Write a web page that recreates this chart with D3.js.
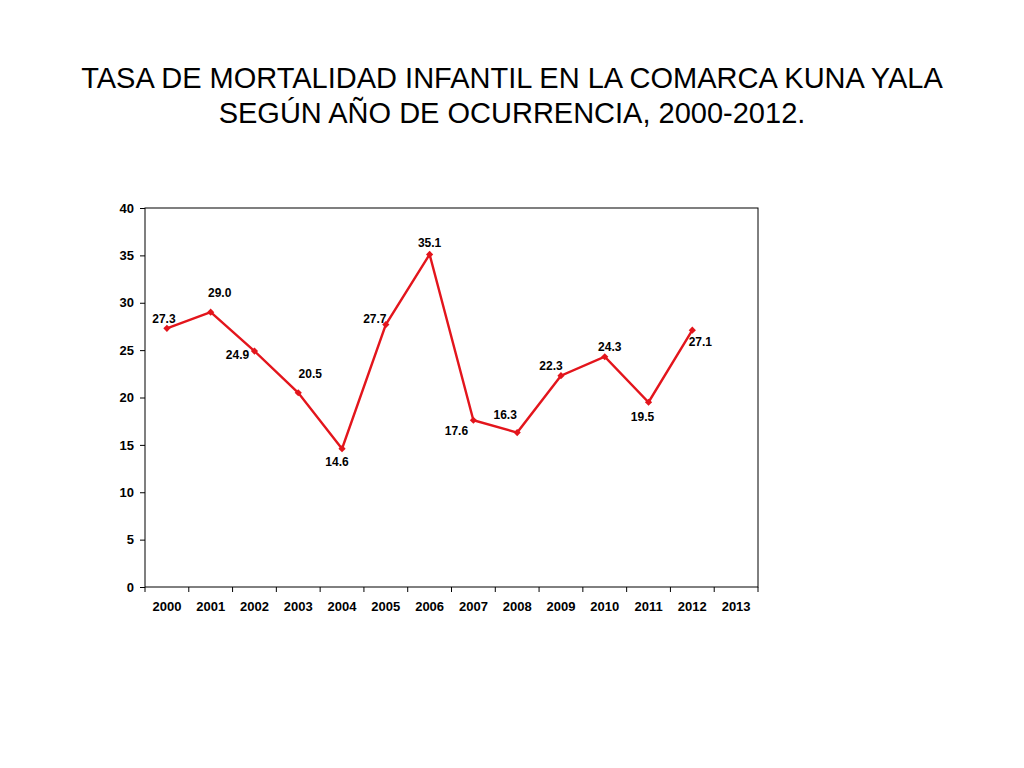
<!DOCTYPE html>
<html>
<head>
<meta charset="utf-8">
<script src="https://cdn.jsdelivr.net/npm/d3@7"></script>
<style>
  body { margin: 0; background: #fff; }
  text { font-family: "Liberation Sans", Arial, sans-serif; }
</style>
</head>
<body>
<div id="chart"></div>
<script>
var titleLines = ["TASA DE MORTALIDAD INFANTIL EN LA COMARCA KUNA YALA",
                  "SEGÚN AÑO DE OCURRENCIA, 2000-2012."]
var years = ["2000","2001","2002","2003","2004","2005","2006","2007","2008","2009","2010","2011","2012","2013"]
var rates = [27.3, 29.0, 24.9, 20.5, 14.6, 27.7, 35.1, 17.6, 16.3, 22.3, 24.3, 19.5, 27.1]
var yTicks = [0, 5, 10, 15, 20, 25, 30, 35, 40]

// label nudges, [dx, dy] from the marker to the label centre
var labelOffsets = [[-3,-10],[9,-19],[-17,4],[12,-19],[-5,13],[-11,-6],[0,-12],
                    [-17,11],[-12,-18],[-10,-10],[5,-10],[-6,15],[8,12]]

var width = 1024
var height = 768
var plot = {left: 145, right: 758, top: 208, bottom: 587}
var red = "#e3151c"

var svg = d3.select("#chart")
  .append("svg")
    .attr("width", width)
    .attr("height", height)

svg.selectAll("text.title")
  .data(titleLines)
  .enter()
  .append("text")
    .attr("class", "title")
    .attr("x", 512)
    .attr("y", function(d, i) { return 88 + i * 35 })
    .attr("text-anchor", "middle")
    .style("font-size", "29px")
    .text(function(d) { return d })

var x = d3.scaleBand()
  .domain(years)
  .range([plot.left, plot.right])

var y = d3.scaleLinear()
  .domain([0, 40])
  .range([plot.bottom, plot.top])

// frame
svg.append("rect")
  .attr("x", plot.left)
  .attr("y", plot.top)
  .attr("width", plot.right - plot.left)
  .attr("height", plot.bottom - plot.top)
  .attr("fill", "none")
  .attr("stroke", "#000")
  .attr("stroke-width", 1)

var yAxis = svg.append("g")
  .attr("transform", "translate(" + plot.left + ",0)")
  .call(d3.axisLeft(y).tickValues(yTicks).tickSize(5).tickPadding(6))
yAxis.select(".domain").remove()

var xAxis = svg.append("g")
  .attr("transform", "translate(0," + plot.bottom + ")")
  .call(d3.axisBottom(x).tickSize(0).tickPadding(15))
xAxis.select(".domain").remove()

// ticks between categories
svg.selectAll("line.xtick")
  .data(years.concat([null]))
  .enter()
  .append("line")
    .attr("class", "xtick")
    .attr("x1", function(d, i) { return plot.left + i * x.step() })
    .attr("x2", function(d, i) { return plot.left + i * x.step() })
    .attr("y1", plot.bottom)
    .attr("y2", plot.bottom + 5)
    .attr("stroke", "#000")

svg.selectAll(".tick text")
  .style("font-size", "13px")
  .style("font-weight", "bold")
  .attr("fill", "#000")
svg.selectAll(".tick line").attr("stroke", "#000")

var cx = function(d, i) { return x(years[i]) + x.bandwidth() / 2 }

var line = d3.line()
  .x(cx)
  .y(function(d) { return y(d) })

svg.append("path")
  .datum(rates)
  .attr("d", line)
  .attr("fill", "none")
  .attr("stroke", red)
  .attr("stroke-width", 2.4)

svg.selectAll("path.marker")
  .data(rates)
  .enter()
  .append("path")
    .attr("class", "marker")
    .attr("d", d3.symbol().type(d3.symbolSquare).size(26))
    .attr("transform", function(d, i) { return "translate(" + cx(d, i) + "," + y(d) + ") rotate(45)" })
    .attr("fill", red)

svg.selectAll("text.value")
  .data(rates)
  .enter()
  .append("text")
    .attr("class", "value")
    .attr("x", function(d, i) { return cx(d, i) + labelOffsets[i][0] })
    .attr("y", function(d, i) { return y(d) + labelOffsets[i][1] })
    .attr("dy", "0.35em")
    .attr("text-anchor", "middle")
    .style("font-size", "12px")
    .style("font-weight", "bold")
    .text(function(d) { return d.toFixed(1) })
</script>
</body>
</html>
